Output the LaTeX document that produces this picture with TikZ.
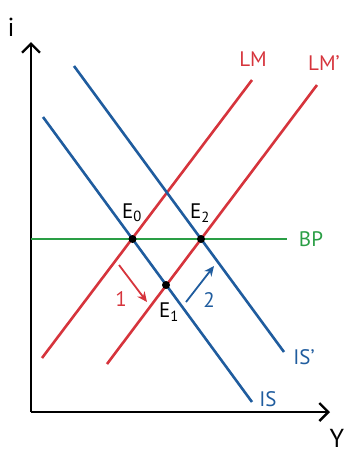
\documentclass[tikz,border=0pt]{standalone}
\usepackage{fontspec}
\setmainfont{PT Sans}
\usetikzlibrary{arrows.meta}
\definecolor{isblue}{HTML}{1F5C9E}
\definecolor{lmred}{HTML}{D6343C}
\definecolor{bpgreen}{HTML}{2A9E45}
\begin{document}
\begin{tikzpicture}[x=1pt,y=-1pt,
  axis/.style={line width=2.4pt,-{Straight Barb[length=9pt,width=18pt,line width=2.4pt]}},
  curve/.style={line width=2.6pt},
  lbl/.style={font=\fontsize{21}{23}\selectfont,inner sep=0pt},
  axlbl/.style={font=\fontsize{26}{28}\selectfont,inner sep=0pt},
  eqdot/.style={circle,fill=black,inner sep=0pt,minimum size=8pt},
  shiftarrow/.style={line width=1.8pt,-{Stealth[length=10pt,width=9pt]}}]
\useasboundingbox (0,0) rectangle (348,456);
% axes
\coordinate (O) at (31,412);
\coordinate (Ytop) at (31,42);
\coordinate (Xend) at (330,412);
\draw[axis] (O) -- (Ytop);
\draw[axis] (O) -- (Xend);
\node[axlbl] (ilab) at (11,27) {i};
\node[axlbl] (Ylab) at (337,438) {Y};
% curves
\coordinate (IS1) at (43,117); \coordinate (IS2) at (252,402);
\coordinate (ISp1) at (74,66); \coordinate (ISp2) at (284,352);
\coordinate (LM1) at (42,358); \coordinate (LM2) at (252,80);
\coordinate (LMp1) at (107,364); \coordinate (LMp2) at (317,85);
\coordinate (BP1) at (31,239); \coordinate (BP2) at (287,239);
\draw[curve,lmred] (LM1) -- (LM2);
\draw[curve,lmred] (LMp1) -- (LMp2);
\draw[curve,isblue] (IS1) -- (IS2);
\draw[curve,isblue] (ISp1) -- (ISp2);
\draw[curve,bpgreen] (BP1) -- (BP2);
% labels
\node[lbl,text=lmred] (LMlab) at (253,59) {LM};
\node[lbl,text=lmred] (LMplab) at (324,63) {LM’};
\node[lbl,text=isblue] (ISlab) at (268,399) {IS};
\node[lbl,text=isblue] (ISplab) at (304,357) {IS’};
\node[lbl,text=bpgreen] (BPlab) at (311,239) {BP};
% equilibria
\node[eqdot] (E0) at (132.5,239) {};
\node[eqdot] (E2) at (201,239) {};
\node[eqdot] (E1) at (166,285) {};
\node[lbl] (E0lab) at (132,213) {E\textsubscript{0}};
\node[lbl] (E2lab) at (200,213) {E\textsubscript{2}};
\node[lbl] (E1lab) at (169,312) {E\textsubscript{1}};
% shift arrows
\coordinate (a1s) at (119,265); \coordinate (a1e) at (147,302);
\coordinate (a2s) at (186,302); \coordinate (a2e) at (214,266);
\draw[shiftarrow,lmred] (a1s) -- (a1e);
\draw[shiftarrow,isblue] (a2s) -- (a2e);
\node[lbl,text=lmred] (n1) at (121,299) {1};
\node[lbl,text=isblue] (n2) at (209,300) {2};
\end{tikzpicture}
\end{document}
